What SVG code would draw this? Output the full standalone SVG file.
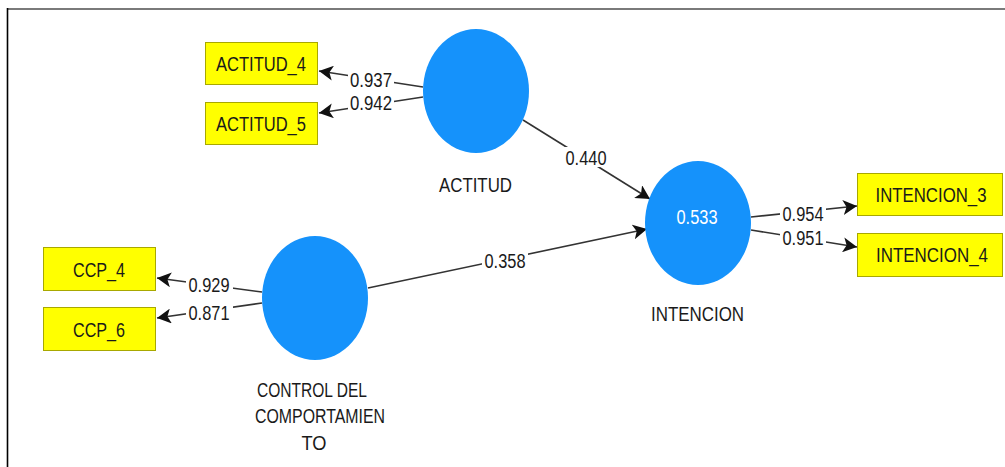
<svg xmlns="http://www.w3.org/2000/svg" width="1005" height="467" viewBox="0 0 1005 467">
<style>
.frame-top{stroke:#7a7a7a;stroke-width:2;}
.frame-left{stroke:#000;stroke-width:1.6;}
.lv{fill:#1592fb;}
.ind{fill:#ffff00;stroke:#a8a800;stroke-width:1;}
.t{font-family:"Liberation Sans",Arial,sans-serif;font-size:20.5px;fill:#1a1a1a;text-anchor:middle;}
.tw{font-family:"Liberation Sans",Arial,sans-serif;font-size:20.5px;fill:#ffffff;text-anchor:middle;}
.c{stroke:#333;stroke-width:1.6;fill:none;marker-end:url(#ah);}
.bg{fill:#ffffff;}
</style>
<defs>
<marker id="ah" markerUnits="userSpaceOnUse" markerWidth="15" markerHeight="15" refX="14" refY="7.5" orient="auto">
<path d="M0,0 L14,7.5 L0,15 L3.5,7.5 z" fill="#111"/>
</marker>
</defs>
<rect x="0" y="0" width="1005" height="467" fill="#fff"/>
<line class="frame-top" x1="7" y1="9" x2="1005" y2="9"/>
<line class="frame-left" x1="7.5" y1="8" x2="7.5" y2="467"/>

<g id="connectors">
<line class="c" x1="423" y1="87" x2="319" y2="71"/>
<line class="c" x1="423" y1="97" x2="319" y2="113"/>
<line class="c" x1="262" y1="292" x2="157" y2="278"/>
<line class="c" x1="262" y1="303" x2="157" y2="318"/>
<line class="c" x1="751" y1="217" x2="857" y2="206"/>
<line class="c" x1="751" y1="230" x2="857" y2="247"/>
<line class="c" x1="523" y1="120" x2="650" y2="199"/>
<line class="c" x1="368" y1="288" x2="647" y2="229"/>
<rect class="bg" x="348" y="70" width="46" height="20"/>
<text class="t" x="371" y="87" textLength="42" lengthAdjust="spacingAndGlyphs">0.937</text>
<rect class="bg" x="348" y="93" width="46" height="20"/>
<text class="t" x="371" y="110" textLength="42" lengthAdjust="spacingAndGlyphs">0.942</text>
<rect class="bg" x="186" y="274" width="47" height="20"/>
<text class="t" x="209" y="291.5" textLength="41" lengthAdjust="spacingAndGlyphs">0.929</text>
<rect class="bg" x="186" y="302" width="47" height="20"/>
<text class="t" x="209" y="319.5" textLength="41" lengthAdjust="spacingAndGlyphs">0.871</text>
<rect class="bg" x="780" y="203" width="46" height="20"/>
<text class="t" x="803" y="220.5" textLength="41" lengthAdjust="spacingAndGlyphs">0.954</text>
<rect class="bg" x="780" y="227" width="46" height="20"/>
<text class="t" x="803" y="244.5" textLength="41" lengthAdjust="spacingAndGlyphs">0.951</text>
<rect class="bg" x="563" y="147" width="46" height="20"/>
<text class="t" x="586" y="164.5" textLength="41" lengthAdjust="spacingAndGlyphs">0.440</text>
<rect class="bg" x="482" y="250" width="46" height="20"/>
<text class="t" x="505" y="267.5" textLength="41" lengthAdjust="spacingAndGlyphs">0.358</text>
</g>

<g id="ACTITUD">
<ellipse class="lv" cx="476" cy="91" rx="53" ry="62"/>
<text class="t" x="475.5" y="192" textLength="73" lengthAdjust="spacingAndGlyphs">ACTITUD</text>
</g>
<g id="INTENCION">
<ellipse class="lv" cx="698" cy="223" rx="53" ry="62"/>
<text class="tw" x="697" y="223.5" textLength="41" lengthAdjust="spacingAndGlyphs">0.533</text>
<text class="t" x="697.5" y="321" textLength="93" lengthAdjust="spacingAndGlyphs">INTENCION</text>
</g>
<g id="CONTROL">
<ellipse class="lv" cx="315" cy="298" rx="53" ry="62"/>
<text class="t" x="312" y="397" textLength="110" lengthAdjust="spacingAndGlyphs">CONTROL DEL</text>
<text class="t" x="320" y="423" textLength="130" lengthAdjust="spacingAndGlyphs">COMPORTAMIEN</text>
<text class="t" x="314" y="450" textLength="25" lengthAdjust="spacingAndGlyphs">TO</text>
</g>
<g id="ACTITUD_4">
<rect class="ind" x="205.5" y="42.5" width="112" height="42"/>
<text class="t" x="261" y="70.5" textLength="90" lengthAdjust="spacingAndGlyphs">ACTITUD_4</text>
</g>
<g id="ACTITUD_5">
<rect class="ind" x="205.5" y="102.5" width="112" height="42"/>
<text class="t" x="261" y="130.5" textLength="90" lengthAdjust="spacingAndGlyphs">ACTITUD_5</text>
</g>
<g id="CCP_4">
<rect class="ind" x="43.5" y="247.5" width="112" height="43"/>
<text class="t" x="99" y="277" textLength="52" lengthAdjust="spacingAndGlyphs">CCP_4</text>
</g>
<g id="CCP_6">
<rect class="ind" x="43.5" y="307.5" width="112" height="43"/>
<text class="t" x="99" y="337" textLength="52" lengthAdjust="spacingAndGlyphs">CCP_6</text>
</g>
<g id="INTENCION_3">
<rect class="ind" x="857.5" y="173.5" width="145" height="42"/>
<text class="t" x="931" y="202" textLength="111" lengthAdjust="spacingAndGlyphs">INTENCION_3</text>
</g>
<g id="INTENCION_4">
<rect class="ind" x="857.5" y="233.5" width="145" height="43"/>
<text class="t" x="932" y="262" textLength="112" lengthAdjust="spacingAndGlyphs">INTENCION_4</text>
</g>
</svg>
